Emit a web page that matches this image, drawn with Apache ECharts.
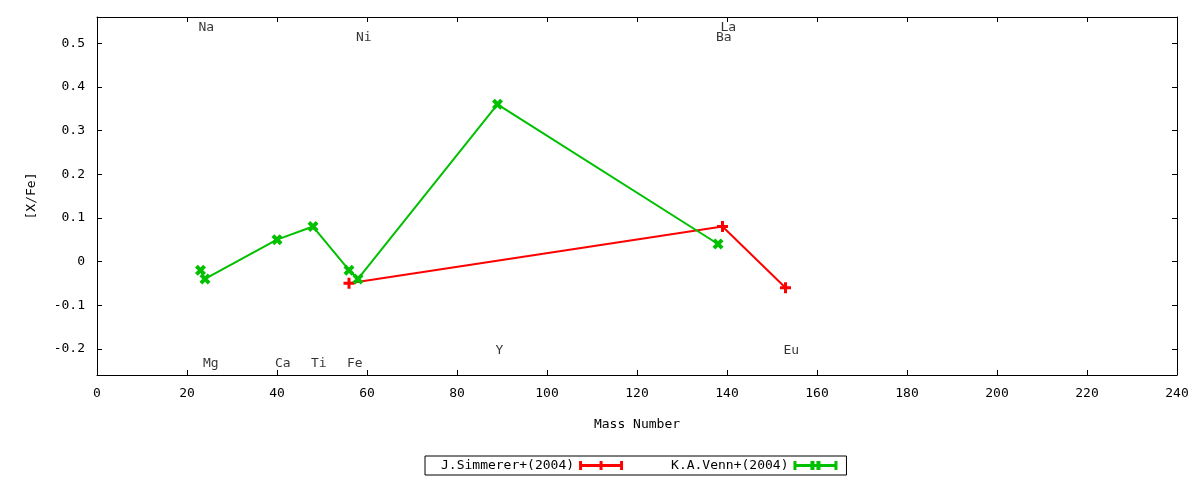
<!DOCTYPE html>
<html><head><meta charset="utf-8">
<script src="https://cdn.jsdelivr.net/npm/echarts@6/dist/echarts.min.js"></script>
<style>html,body{margin:0;padding:0;background:#fff}#c{width:1200px;height:480px}</style>
</head><body><div id="c"></div>
<script>
const simmererData = [[56,-0.05],[139,0.08],[153,-0.06]];
const vennData = [[23,-0.02],[24,-0.04],[40,0.05],[48,0.08],[56,-0.02],[58,-0.04],[89,0.36],[138,0.04]];
const labelNames = ['Na','Mg','Ca','Ti','Fe','Ni','Y','Ba','La','Eu'];
const labelX = [23,24,40,48,56,58,89,138,139,153];
const labelY = [0.535,-0.233,-0.233,-0.233,-0.233,0.512,-0.204,0.512,0.535,-0.204];
const xTicks = {min:0,max:240,interval:20};
const yTicks = {min:-0.26,max:0.56,splitNumber:8};
const seriesNames = ['J.Simmerer+(2004)','K.A.Venn+(2004)'];

const FONT = 'DejaVu Sans Mono';
const plusPath = 'path://M4,0h3v11h-3z M0,4h11v3h-11z';
const xPath = 'path://M0,2.8L2.8,0L11,8.2L8.2,11Z M8.2,0L11,2.8L2.8,11L0,8.2Z';
const redIcon = 'path://M0,3h44v3h-44z M0,0h3v9h-3z M41,0h3v9h-3z M20.5,0h3v9h-3z';
const greenIcon = 'path://M0,3h44v3h-44z M0,0h3v9h-3z M41,0h3v9h-3z M17,0h4v9h-4z M23,0h4v9h-4z';

const chart = echarts.init(document.getElementById('c'));
const tickStyle = {inside:true,length:5,lineStyle:{color:'#000'}};
const yFmt = v=>{const r=Math.round(v*10)/10; if(Math.abs(v-r)>1e-6) return ''; return r===0?'0':r.toFixed(1);};
chart.setOption({
  animation:false,
  textStyle:{fontFamily:FONT},
  grid:{left:97,right:23,top:17,bottom:105},
  legend:{
    left:425, top:456, orient:'horizontal', align:'right',
    padding:[3,9,3,16], itemGap:48, itemWidth:44, itemHeight:9,
    borderColor:'#000', borderWidth:1, borderRadius:0,
    textStyle:{fontFamily:FONT,fontSize:13,color:'#000'},
    data:[{name:seriesNames[0],icon:redIcon},{name:seriesNames[1],icon:greenIcon}]
  },
  xAxis:[{
    type:'value', min:xTicks.min, max:xTicks.max, interval:xTicks.interval,
    name:'Mass Number', nameLocation:'middle', nameGap:43,
    nameTextStyle:{fontFamily:FONT,fontSize:13,color:'#000'},
    axisLine:{onZero:false,lineStyle:{color:'#000'}}, axisTick:tickStyle,
    axisLabel:{fontFamily:FONT,fontSize:13,color:'#000',margin:12},
    splitLine:{show:false}
  },{
    type:'value', position:'top', min:xTicks.min, max:xTicks.max, interval:xTicks.interval,
    axisLine:{onZero:false,lineStyle:{color:'#000'}}, axisTick:tickStyle,
    axisLabel:{show:false}, splitLine:{show:false}
  }],
  yAxis:[{
    type:'value', min:yTicks.min, max:yTicks.max, splitNumber:yTicks.splitNumber,
    name:'[X/Fe]', nameLocation:'middle', nameGap:59, nameRotate:90,
    nameTextStyle:{fontFamily:FONT,fontSize:13,color:'#000'},
    axisLine:{onZero:false,lineStyle:{color:'#000'}}, axisTick:tickStyle,
    axisLabel:{fontFamily:FONT,fontSize:13,color:'#000',margin:12,formatter:yFmt},
    splitLine:{show:false}
  },{
    type:'value', position:'right', min:yTicks.min, max:yTicks.max, splitNumber:yTicks.splitNumber,
    axisLine:{onZero:false,lineStyle:{color:'#000'}}, axisTick:tickStyle,
    axisLabel:{show:false}, splitLine:{show:false}
  }],
  series:[{
    name:seriesNames[0], type:'line', data:simmererData,
    symbol:plusPath, symbolSize:11, showAllSymbol:true,
    lineStyle:{color:'#ff0000',width:2}, itemStyle:{color:'#ff0000'}
  },{
    name:seriesNames[1], type:'line', data:vennData,
    symbol:xPath, symbolSize:11, showAllSymbol:true,
    lineStyle:{color:'#00c000',width:2}, itemStyle:{color:'#00c000'}
  },{
    name:'labels', type:'scatter', symbolSize:0, silent:true,
    data:labelNames.map((n,i)=>({name:n,value:[labelX[i],labelY[i]]})),
    label:{show:true,position:'right',distance:0,offset:[-2,0],formatter:p=>p.name,
      fontFamily:FONT,fontSize:13,color:'#000'}
  }]
});
</script></body></html>
